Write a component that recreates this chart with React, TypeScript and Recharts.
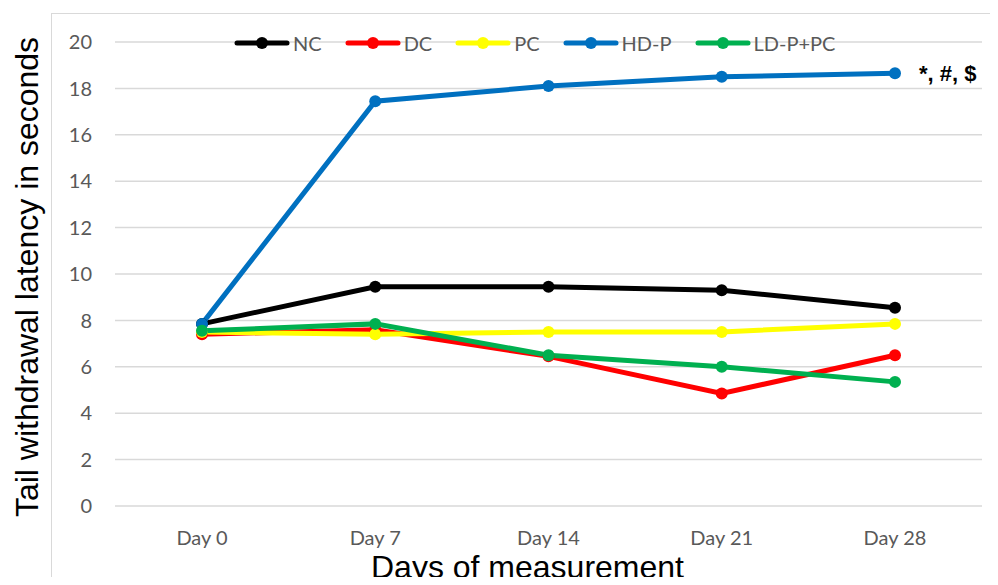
import React from 'react';
import {
    LineChart,
    Line,
    XAxis,
    YAxis,
    CartesianGrid,
    Legend,
    Label,
    LabelList,
} from 'recharts';

const days = ['Day 0', 'Day 7', 'Day 14', 'Day 21', 'Day 28'];
const nc = [7.85, 9.45, 9.45, 9.3, 8.55];
const dc = [7.4, 7.6, 6.45, 4.85, 6.5];
const pc = [7.5, 7.4, 7.5, 7.5, 7.85];
const hdp = [7.85, 17.45, 18.1, 18.5, 18.65];
const ldppc = [7.55, 7.85, 6.5, 6.0, 5.35];
const yTicks = [0, 2, 4, 6, 8, 10, 12, 14, 16, 18, 20];
const significance = '*, #, $';

const series = [
    { key: 'nc', name: 'NC', color: '#000000', values: nc },
    { key: 'dc', name: 'DC', color: '#FF0000', values: dc },
    { key: 'pc', name: 'PC', color: '#FFFF00', values: pc },
    { key: 'hdp', name: 'HD-P', color: '#0070C0', values: hdp },
    { key: 'ldppc', name: 'LD-P+PC', color: '#00B050', values: ldppc },
];

const data = days.map((day, i) => {
    const row: Record<string, string | number> = { day };
    series.forEach((s) => {
        row[s.key] = s.values[i];
    });
    return row;
});

const tickFont = { fontFamily: 'Lato', fontSize: 20, fill: '#595959' };

const LegendContent = () => (
    <div style={{ display: 'flex', alignItems: 'center' }}>
        {series.map((s) => (
            <div key={s.key} style={{ display: 'flex', alignItems: 'center', marginRight: 23 }}>
                <svg width={56} height={16}>
                    <line x1={3} y1={8} x2={53} y2={8} stroke={s.color} strokeWidth={5} strokeLinecap="round" />
                    <circle cx={28} cy={8} r={6} fill={s.color} />
                </svg>
                <span style={{ fontFamily: 'Lato', fontSize: 20, color: '#595959', marginLeft: 3, lineHeight: '20px' }}>
                    {s.name}
                </span>
            </div>
        ))}
    </div>
);

const App: React.FC = () => {
    return (
        <div style={{ position: 'relative', width: 998, height: 585, margin: -8, overflow: 'hidden', background: '#fff' }}>
            <div
                style={{
                    position: 'absolute',
                    left: 51,
                    top: 13,
                    width: 1100,
                    height: 700,
                    border: '1.5px solid #d9d9d9',
                }}
            />
            <LineChart width={998} height={585} data={data} margin={{ top: 42, right: 16, left: 55, bottom: 0 }}>
                <CartesianGrid vertical={false} stroke="#d9d9d9" strokeWidth={1.5} />
                <XAxis
                    dataKey="day"
                    axisLine={false}
                    tickLine={false}
                    tickSize={0}
                    tickMargin={25}
                    height={79}
                    padding={{ left: 87, right: 87 }}
                    tick={tickFont}
                >
                    <Label
                        content={({ viewBox }: any) => (
                            <text
                                x={viewBox.x + viewBox.width / 2 - 21}
                                y={viewBox.y + viewBox.height - 7}
                                textAnchor="middle"
                                fontFamily="Liberation Sans"
                                fontSize={32}
                                fill="#000"
                            >
                                Days of measurement
                            </text>
                        )}
                    />
                </XAxis>
                <YAxis
                    domain={[0, 20]}
                    ticks={yTicks}
                    axisLine={false}
                    tickLine={false}
                    tickSize={0}
                    tickMargin={23}
                    width={60}
                    tick={tickFont}
                >
                    <Label
                        content={({ viewBox }: any) => {
                            const cx = 27;
                            const cy = viewBox.y + viewBox.height / 2 + 3;
                            return (
                                <text
                                    x={cx}
                                    y={cy}
                                    transform={`rotate(-90 ${cx} ${cy})`}
                                    textAnchor="middle"
                                    dominantBaseline="central"
                                    fontFamily="Liberation Sans"
                                    fontSize={32}
                                    fill="#000"
                                >
                                    Tail withdrawal latency in seconds
                                </text>
                            );
                        }}
                    />
                </YAxis>
                <Legend
                    layout="horizontal"
                    verticalAlign="middle"
                    content={<LegendContent />}
                    wrapperStyle={{ position: 'absolute', top: 33, left: 234, width: 'auto' }}
                />
                {series.map((s) => (
                    <Line
                        key={s.key}
                        dataKey={s.key}
                        name={s.name}
                        stroke={s.color}
                        strokeWidth={5}
                        dot={{ r: 6, fill: s.color, stroke: 'none' }}
                        activeDot={false}
                        isAnimationActive={false}
                    >
                        {s.key === 'hdp' && (
                            <LabelList
                                dataKey={s.key}
                                content={(props: any) =>
                                    props.index === days.length - 1 ? (
                                        <text
                                            x={props.x + 24}
                                            y={props.y + 8}
                                            fontFamily="Liberation Sans"
                                            fontWeight="bold"
                                            fontSize={22}
                                            fill="#000"
                                        >
                                            {significance}
                                        </text>
                                    ) : null
                                }
                            />
                        )}
                    </Line>
                ))}
            </LineChart>
        </div>
    );
};

export default App;
